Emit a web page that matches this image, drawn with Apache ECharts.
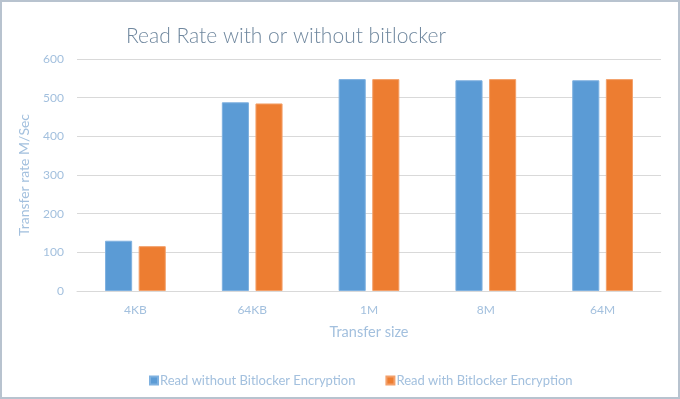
<!DOCTYPE html>
<html>
<head>
<meta charset="utf-8">
<script src="https://cdn.jsdelivr.net/npm/echarts@6/dist/echarts.min.js"></script>
<style>
html,body{margin:0;padding:0;background:#fff;}
#c{width:680px;height:399px;box-sizing:border-box;border:2px solid #b8c3cf;}
</style>
</head>
<body>
<div id="c"></div>
<script>
const categories = ["4KB", "64KB", "1M", "8M", "64M"];
const withoutEnc = [130, 488, 548, 545, 545];
const withEnc = [116, 485, 548, 548, 548];
const yTicks = {min: 0, max: 600, interval: 100};

const chart = echarts.init(document.getElementById('c'), null, {renderer: 'canvas'});
const labelColor = '#a3c0de';
const font = 'Lato, "Open Sans", sans-serif';
chart.setOption({
  animation: false,
  title: {
    text: 'Read Rate with or without bitlocker',
    left: 119, top: 19,
    textStyle: {fontFamily: font, fontSize: 21, fontWeight: 300, color: '#6f879e'}
  },
  legend: {
    left: 142, top: 367,
    itemWidth: 8, itemHeight: 8, itemGap: 30,
    icon: 'rect',
    textStyle: {fontFamily: font, fontSize: 13, color: labelColor, padding: [0,0,0,-3]},
    data: ['Read without Bitlocker Encryption', 'Read with Bitlocker Encryption']
  },
  grid: {left: 75, right: 17, top: 57, bottom: 106},
  xAxis: {
    type: 'category', data: categories,
    name: 'Transfer size', nameLocation: 'middle', nameGap: 34,
    nameTextStyle: {fontFamily: font, fontSize: 14.5, color: labelColor},
    axisLine: {lineStyle: {color: '#d9d9d9'}},
    axisTick: {show: false},
    axisLabel: {fontFamily: font, fontSize: 12, color: labelColor, margin: 13}
  },
  yAxis: {
    type: 'value', min: yTicks.min, max: yTicks.max, interval: yTicks.interval,
    name: 'Transfer rate M/Sec', nameLocation: 'middle', nameGap: 46, nameRotate: 90,
    nameTextStyle: {fontFamily: font, fontSize: 14, color: labelColor},
    axisLine: {show: false}, axisTick: {show: false},
    splitLine: {lineStyle: {color: '#d9d9d9'}},
    axisLabel: {fontFamily: font, fontSize: 12, color: labelColor, margin: 13}
  },
  series: [
    {name: 'Read without Bitlocker Encryption', type: 'bar', data: withoutEnc,
     barGap: '24%', barCategoryGap: '48%',
     itemStyle: {color: '#5b9bd5', borderColor: '#7fb1e0', borderWidth: 1}},
    {name: 'Read with Bitlocker Encryption', type: 'bar', data: withEnc,
     itemStyle: {color: '#ed7d31', borderColor: '#f3a06a', borderWidth: 1}}
  ]
});
</script>
</body>
</html>
